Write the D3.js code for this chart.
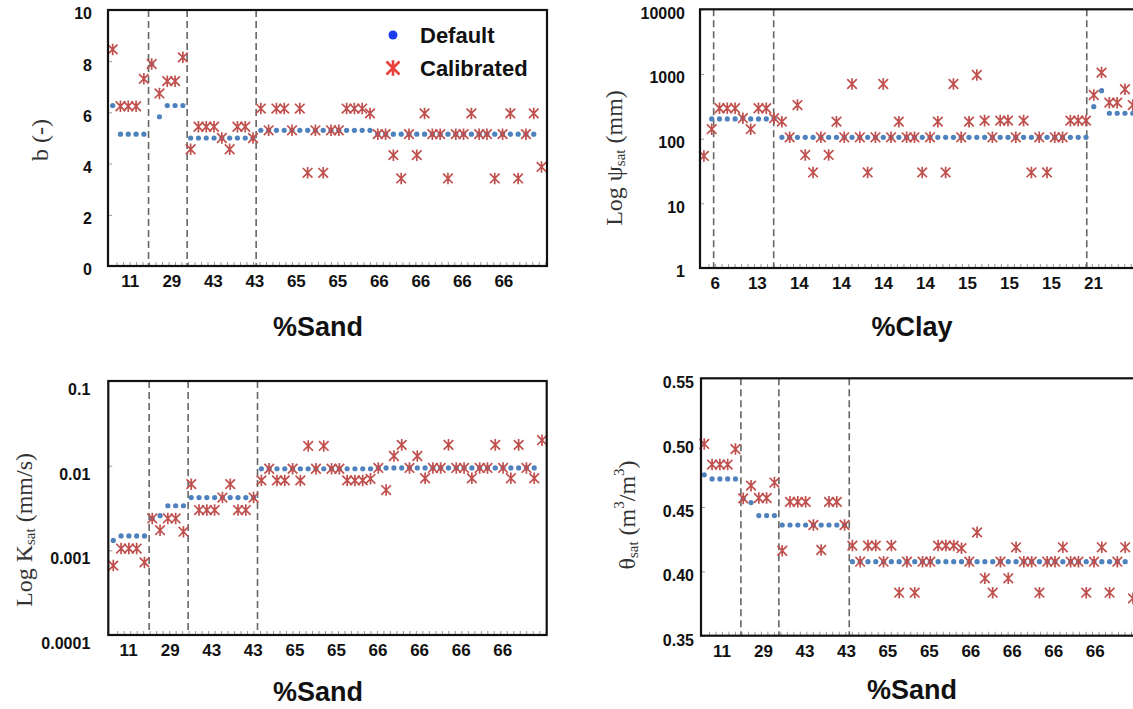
<!DOCTYPE html>
<html><head><meta charset="utf-8">
<script src="https://cdn.jsdelivr.net/npm/d3@7"></script>
<style>body{margin:0;background:#fff}svg{display:block}</style>
</head><body>
<svg id="chart" width="1133" height="709"></svg>
<script>
// ---------------- DATA ----------------
const sandLabels = ["11","29","43","43","65","65","66","66","66","66"];
const clayLabels = ["6","13","14","14","14","14","15","15","15","21"];

const bTicks = [0,2,4,6,8,10];
const psiTicks = [1,10,100,1000,10000];
const ksatTicks = [0.0001,0.001,0.01,0.1];
const thetaTicks = [0.35,0.40,0.45,0.50,0.55];

const bDefault = [6.27,5.15,5.15,5.15,5.15,7.89,5.83,6.27,6.27,6.27,
  5.0,5.0,5.0,5.0,5.0,5.0,5.0,5.0,5.0,
  5.3,5.3,5.3,5.3,5.3,5.3,5.3,5.3,5.3,5.3,5.3,5.3,5.3,5.3,5.3,
  5.15,5.15,5.15,5.15,5.15,5.15,5.15,5.15,5.15,5.15,5.15,5.15,5.15,5.15,5.15,5.15,5.15,5.15,5.15,5.15,5.15,
  null];
const bCalibrated = [8.46,6.24,6.24,6.24,7.31,7.89,6.74,7.22,7.22,8.15,
  4.56,5.44,5.44,5.44,5.0,4.56,5.44,5.44,5.0,
  6.15,5.3,6.15,6.15,5.3,6.15,3.64,5.3,3.64,5.3,5.3,6.15,6.15,6.15,5.96,
  5.15,5.15,4.33,3.42,5.15,4.33,5.96,5.15,5.15,3.42,5.15,5.15,5.96,5.15,5.15,3.42,5.15,5.96,3.42,5.15,5.96,
  3.87];

const psiDefault = [null,202,202,202,202,207,202,202,202,207,
  105,105,105,105,105,105,105,105,105,105,105,105,105,105,105,105,105,105,105,105,
  105,105,105,105,105,105,105,105,105,105,105,105,105,105,105,105,105,105,105,105,
  312,552,247,247,247,247];
const psiCalibrated = [54,140,295,295,295,207,140,295,295,207,
  183,105,331,56,30,105,56,183,105,700,105,30,105,700,105,183,105,105,30,105,
  183,30,700,105,183,965,190,105,190,190,105,190,30,105,30,105,105,190,190,190,
  473,1050,360,360,580,331];

const ksatDefault = [0.00131,0.00148,0.00148,0.00148,0.00148,0.00238,0.00257,0.00336,0.00336,0.00336,
  0.0042,0.0042,0.0042,0.0042,0.0042,0.0042,0.0042,0.0042,0.0042,
  0.0092,0.0092,0.0092,0.0092,0.0092,0.0092,0.0092,0.0092,0.0092,0.0092,0.0092,0.0092,0.0092,0.0092,0.0092,
  0.0094,0.0094,0.0094,0.0094,0.0094,0.0094,0.0094,0.0094,0.0094,0.0094,0.0094,0.0094,0.0094,0.0094,0.0094,0.0094,0.0094,0.0094,0.0094,0.0094,0.0094,
  null];
const ksatCalibrated = [0.00066,0.00105,0.00105,0.00105,0.00072,0.00238,0.00173,0.00238,0.00238,0.00166,
  0.00605,0.00299,0.00299,0.00299,0.0042,0.00605,0.00299,0.00299,0.0042,
  0.0067,0.0092,0.0067,0.0067,0.0092,0.0067,0.0171,0.0092,0.0171,0.0092,0.0092,0.0067,0.0067,0.0067,0.0070,
  0.0094,0.00515,0.013,0.0176,0.0094,0.013,0.0071,0.0094,0.0094,0.0176,0.0094,0.0094,0.0071,0.0094,0.0094,0.0176,0.0094,0.0071,0.0176,0.0094,0.0071,
  0.020];

const thetaDefault = [0.475,0.4718,0.4718,0.4718,0.4718,0.4567,0.4534,0.4433,0.4433,0.4433,
  0.436,0.436,0.436,0.436,0.436,0.436,0.436,0.436,0.436,
  0.4075,0.4075,0.4075,0.4075,0.4075,0.4075,0.4075,0.4075,0.4075,0.4075,0.4075,0.4075,0.4075,0.4075,0.4075,
  0.4075,0.4075,0.4075,0.4075,0.4075,0.4075,0.4075,0.4075,0.4075,0.4075,0.4075,0.4075,0.4075,0.4075,0.4075,0.4075,0.4075,0.4075,0.4075,0.4075,0.4075,
  null];
const thetaCalibrated = [0.499,0.483,0.483,0.483,0.495,0.4567,0.4666,0.457,0.457,0.469,
  0.416,0.454,0.454,0.454,0.436,0.4166,0.454,0.454,0.436,
  0.42,0.4075,0.42,0.42,0.4075,0.42,0.3834,0.4075,0.3834,0.4075,0.4075,0.42,0.42,0.42,0.418,
  0.4075,0.4303,0.3946,0.3834,0.4075,0.3946,0.4187,0.4075,0.4075,0.3834,0.4075,0.4075,0.4187,0.4075,0.4075,0.3834,0.4075,0.4187,0.3834,0.4075,0.4187,
  0.379];

// group boundaries (in sample-index units)
const sandDividers1 = [4.6, 9.55, 18.4];
const clayDividers = [1.25, 8.95, 49.1];
const sandDividers3 = [4.6, 9.6, 18.5];
const sandDividers4 = [4.7, 9.57, 18.6];

// ---------------- DRAW ----------------
const svg = d3.select("#chart");
const SANS = "'Liberation Sans', Arial, sans-serif";
const SERIF = "'Liberation Serif', 'Times New Roman', serif";
const DOT = "#4f81bd", STAR = "#c0504d";

function starPath(s){
  const v = s*1.2;
  return `M${-s},${-s}L${s},${s}M${-s},${s}L${s},${-s}M0,${-v}L0,${v}`;
}

function panel(c){
  const g = svg.append("g");
  const x = d3.scaleLinear().domain(c.xDomain).range([c.left, c.right]);
  const y = (c.log ? d3.scaleLog() : d3.scaleLinear()).domain(c.yDomain).range([c.bottom, c.top]);

  // minor x ticks (inward)
  const minor = d3.range(c.minorStart, c.xDomain[1], 0.833);
  g.append("g").attr("transform", `translate(0,${c.bottom})`)
    .call(d3.axisBottom(x).tickValues(minor).tickSize(-4).tickFormat(""))
    .call(a => a.select(".domain").remove())
    .call(a => a.selectAll("line").attr("stroke", "#999").attr("stroke-width", 1));

  // y ticks (inward) + labels
  const ya = g.append("g").attr("transform", `translate(${c.left},0)`)
    .call(d3.axisLeft(y).tickValues(c.yTicks).tickSize(-4).tickPadding(c.yPad).tickFormat(c.yFormat))
    .call(a => a.select(".domain").remove())
    .call(a => a.selectAll("line").attr("stroke", "#999").attr("stroke-width", 1));
  ya.selectAll("text").attr("font-family", SANS).attr("font-weight", "bold")
    .attr("font-size", 16).attr("fill", "#111").attr("dy", c.yDy);

  // x category labels
  const xl = d3.scalePoint().domain(d3.range(c.labels.length))
    .range([x(c.labelSpan[0]), x(c.labelSpan[1])]);
  const xa = g.append("g").attr("transform", `translate(0,${c.bottom})`)
    .call(d3.axisBottom(xl).tickSize(0).tickPadding(9).tickFormat(i => c.labels[i]));
  xa.select(".domain").remove();
  xa.selectAll("text").attr("font-family", SANS).attr("font-weight", "bold")
    .attr("font-size", 17).attr("fill", "#111");

  // dividers
  g.selectAll("line.div").data(c.dividers).join("line").attr("class", "div")
    .attr("x1", d => x(d)).attr("x2", d => x(d))
    .attr("y1", c.top).attr("y2", c.bottom)
    .attr("stroke", "#666").attr("stroke-width", 1.6).attr("stroke-dasharray", "7,4");

  const idx = d3.range(c.def.length);
  // default dots
  g.selectAll("circle.def").data(idx.filter(i => c.def[i] != null)).join("circle")
    .attr("class", "def").attr("cx", i => x(i)).attr("cy", i => y(c.def[i]))
    .attr("r", 2.6).attr("fill", DOT);
  // calibrated stars
  g.selectAll("path.cal").data(idx.filter(i => c.cal[i] != null)).join("path")
    .attr("class", "cal").attr("transform", i => `translate(${x(i)},${y(c.cal[i])})`)
    .attr("d", starPath(4.8)).attr("fill", "none").attr("stroke", STAR).attr("stroke-width", 1.7);

  // frame
  g.append("rect").attr("x", c.left).attr("y", c.top)
    .attr("width", c.right - c.left).attr("height", c.bottom - c.top)
    .attr("fill", "none").attr("stroke", "#111").attr("stroke-width", 2.2);

  // x title
  g.append("text").attr("x", c.titleX).attr("y", c.titleY).attr("text-anchor", "middle")
    .attr("font-family", SANS).attr("font-weight", "bold").attr("font-size", 27).attr("fill", "#111")
    .text(c.title);

  // y title
  const yt = g.append("text").attr("transform", `translate(${c.ytX},${c.ytY}) rotate(-90)`)
    .attr("text-anchor", "middle").attr("dominant-baseline", "central")
    .attr("font-family", SERIF).attr("font-size", 24).attr("fill", "#333");
  c.ytParts.forEach(p => {
    const t = yt.append("tspan").text(p.t);
    if (p.sub) t.attr("font-size", 15).attr("dy", p.dy);
    if (p.back) t.attr("dy", p.back);
  });
  return {x, y, g};
}

const fmtB = d => String(d);
const fmtLog = d => String(d);
const fmtTheta = d3.format(".2f");

panel({left:108, right:547, top:10, bottom:266, xDomain:[-0.6,55.7], minorStart:0.5,
  yDomain:[0,10], yTicks:bTicks, yFormat:fmtB, yPad:16, yDy:"0.55em",
  labels:sandLabels, labelSpan:[2.2,50.1], dividers:sandDividers1,
  def:bDefault, cal:bCalibrated, title:"%Sand", titleX:318, titleY:336,
  ytX:40, ytY:140, ytParts:[{t:"b (-)"}]});

panel({left:700, right:1139, top:9.3, bottom:268, xDomain:[-0.5,55.8], minorStart:0.6, log:true,
  yDomain:[1,10000], yTicks:psiTicks, yFormat:fmtLog, yPad:15, yDy:"0.55em",
  labels:clayLabels, labelSpan:[1.4,49.9], dividers:clayDividers,
  def:psiDefault, cal:psiCalibrated, title:"%Clay", titleX:912, titleY:336,
  ytX:614, ytY:158, ytParts:[{t:"Log ψ"},{t:"sat",sub:true,dy:6},{t:" (mm)",back:-6}]});

panel({left:108.3, right:546.7, top:381, bottom:635, xDomain:[-0.64,55.6], minorStart:0.5, log:true,
  yDomain:[0.0001,0.1], yTicks:ksatTicks, yFormat:fmtLog, yPad:18, yDy:"0.85em",
  labels:sandLabels, labelSpan:[1.9,49.9], dividers:sandDividers3,
  def:ksatDefault, cal:ksatCalibrated, title:"%Sand", titleX:318, titleY:701,
  ytX:24, ytY:530, ytParts:[{t:"Log K"},{t:"sat",sub:true,dy:6},{t:" (mm/s)",back:-6}]});

panel({left:701, right:1140, top:378.3, bottom:635.7, xDomain:[-0.42,55.9], minorStart:0.6,
  yDomain:[0.35,0.55], yTicks:thetaTicks, yFormat:fmtTheta, yPad:7, yDy:"0.6em",
  labels:sandLabels, labelSpan:[2.2,50.1], dividers:sandDividers4,
  def:thetaDefault, cal:thetaCalibrated, title:"%Sand", titleX:912, titleY:699,
  ytX:627, ytY:515, ytParts:[{t:"θ"},{t:"sat",sub:true,dy:6},{t:" (m",back:-6},{t:"3",sub:true,dy:-8},{t:"/m",back:8},{t:"3",sub:true,dy:-8},{t:")",back:8}]});

// legend (top-left panel)
const lg = svg.append("g");
lg.append("circle").attr("cx", 393).attr("cy", 35).attr("r", 4.5).attr("fill", "#1a3cf0");
lg.append("path").attr("transform", "translate(393,68)").attr("d", starPath(6.5))
  .attr("fill", "none").attr("stroke", "#e8403a").attr("stroke-width", 2.6);
lg.selectAll("text").data(["Default","Calibrated"]).join("text")
  .attr("x", 420).attr("y", (d,i) => i ? 68 : 35).attr("dominant-baseline", "central")
  .attr("font-family", SANS).attr("font-weight", "bold").attr("font-size", 22).attr("fill", "#111")
  .text(d => d);
</script>
</body></html>
